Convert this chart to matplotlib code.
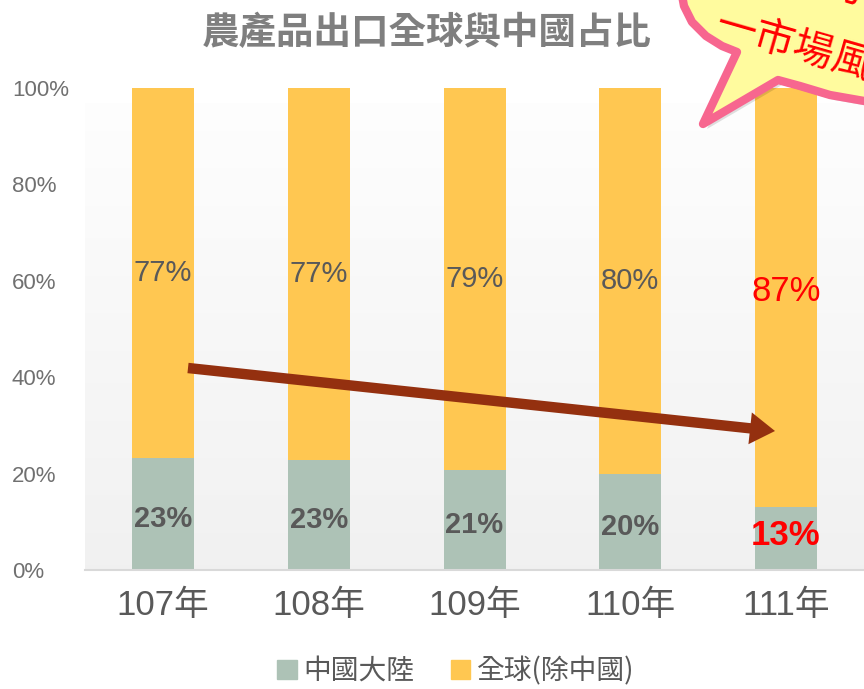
import matplotlib
matplotlib.use("Agg")
import matplotlib.pyplot as plt
import numpy as np
import matplotlib.transforms as mtransforms
from matplotlib.patches import Polygon, Patch

plt.rcParams['font.family'] = ['Liberation Sans', 'Noto Sans CJK TC', 'DejaVu Sans']

years = ['107年', '108年', '109年', '110年', '111年']
china = [23.2, 22.8, 20.7, 19.9, 13.1]
rest = [76.8, 77.2, 79.3, 80.1, 86.9]
china_labels = ['23%', '23%', '21%', '20%', '13%']
rest_labels = ['77%', '77%', '79%', '80%', '87%']
yticks = [0, 20, 40, 60, 80, 100]
series_names = ['中國大陸', '全球(除中國)']
title = '農產品出口全球與中國占比'

C_CHINA = '#ADC2B6'
C_REST = '#FFC751'
TXT = '#595959'

W, H = 864, 689
fig = plt.figure(figsize=(W / 100, H / 100), dpi=100)
fig.patch.set_facecolor('white')

def px(x, y):
    return (x / W, 1 - y / H)

step = 155.75
left = 163 - 0.5 * step
ax = fig.add_axes([left / W, (H - 570) / H, (W - left) / W, (570 - 88) / H])
ax.set_xlim(-0.5, -0.5 + (W - left) / step)
ax.set_ylim(0, 100)
ax.patch.set_alpha(0)

# gradient plot-area background
grad = np.linspace(0, 1, 100).reshape(-1, 1)
top = np.array([0.995, 0.995, 0.995])
bot = np.array([0.945, 0.945, 0.945])
img = top + (bot - top) * grad[:, :, None] * np.ones((1, 1, 3))
bx0, by0 = px(85, 570)
bx1, by1 = px(W, 103)
bgax = fig.add_axes([bx0, by0, bx1 - bx0, by1 - by0], zorder=-1)
bgax.imshow(img, aspect='auto', extent=[0, 1, 0, 1])
bgax.axis('off')

x = np.arange(len(years))
bw = 62 / step
ax.bar(x, china, width=bw, color=C_CHINA, zorder=2)
ax.bar(x, rest, bottom=china, width=bw, color=C_REST, zorder=2)

for i in range(len(years)):
    red = (i == len(years) - 1)
    c = 'red' if red else TXT
    fs = 25 if red else 21
    ax.text(x[i], china[i] + rest[i] / 2 + (1.3 if red else 0), rest_labels[i], ha='center',
            va='center', fontsize=fs, color=c, zorder=4)
    ax.text(x[i], china[i] / 2 + (0.6 if red else -1.0), china_labels[i], ha='center', va='center',
            fontsize=fs, fontweight='bold', color=c, zorder=4)

ax.set_yticks(yticks)
ax.set_yticklabels([f'{v}%' for v in yticks], fontsize=16, color='#707070')
ax.set_xticks(x)
ax.set_xticklabels(years, fontsize=25, color=TXT)
ax.tick_params(axis='both', length=0)
ax.tick_params(axis='x', pad=14)
for s in ['top', 'right', 'left']:
    ax.spines[s].set_visible(False)
ax.spines['bottom'].set_color('#D9D9D9')
ax.spines['bottom'].set_linewidth(1.5)
for lab in ax.get_yticklabels():
    lab.set_horizontalalignment('left')
    lab.set_transform(mtransforms.blended_transform_factory(fig.transFigure, ax.transData))
    lab.set_x(12 / W)

# arrow annotation
x0 = (188 - left) / step - 0.5
y0 = (570 - 368) / 4.82
x1 = (775 - left) / step - 0.5
y1 = (570 - 431) / 4.82
ax.annotate('', xy=(x1, y1), xytext=(x0, y0),
            arrowprops=dict(arrowstyle='simple,head_length=1.8,head_width=2.3,tail_width=0.75',
                            color='#94300F', lw=0, shrinkA=0, shrinkB=0),
            zorder=5)

# title
fig.text(427 / W, 1 - 33 / H, title, ha='center', va='center', fontsize=27,
         fontweight='bold', color='#7F7F7F', family=['Noto Sans CJK TC'])

# legend
handles = [Patch(color=C_CHINA), Patch(color=C_REST)]
leg = fig.legend(handles, series_names, loc='center', bbox_to_anchor=px(456, 671), ncol=2,
                 frameon=False, handlelength=0.7, handleheight=0.7,
                 handletextpad=0.25, columnspacing=1.3,
                 prop={'family': ['Noto Sans CJK TC'], 'size': 20})
for t in leg.get_texts():
    t.set_color(TXT)

# star callout (top right, cut by figure edge)
star_pts = [(681, -10), (684, 6), (692, 22), (706, 36), (722, 46), (737, 52),
            (703, 124), (778, 80), (800, 86), (830, 95), (870, 102), (870, -10)]
shadow = Polygon([px(a + 4, b + 5) for a, b in star_pts], closed=True, transform=fig.transFigure,
                 facecolor='#000000', alpha=0.12, edgecolor='none', zorder=8)
fig.add_artist(shadow)
star = Polygon([px(a, b) for a, b in star_pts], closed=True, transform=fig.transFigure,
               facecolor='#FFFB9E', edgecolor='#F7668F', linewidth=6, joinstyle='round', zorder=9)
fig.add_artist(star)
fig.text(*px(716, 24), '一市場風', ha='left', va='center', rotation=-16, rotation_mode='anchor',
         fontsize=29, color='#FF0000', family=['Noto Sans CJK TC'], zorder=10)
fig.text(*px(848, -12), '分', ha='center', va='center', rotation=-16, rotation_mode='anchor',
         fontsize=29, color='#FF0000', family=['Noto Sans CJK TC'], zorder=10)

fig.savefig('out.png', dpi=100)
